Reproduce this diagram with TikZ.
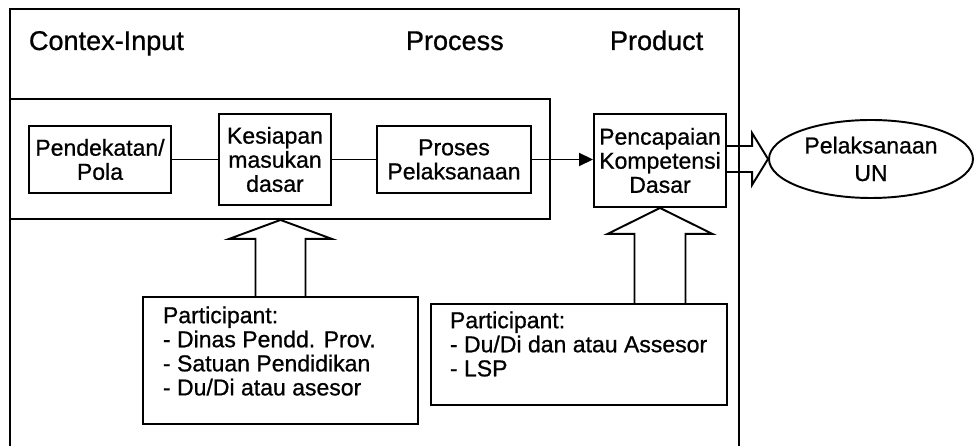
\documentclass[tikz,border=0pt]{standalone}
\usepackage{fontspec}
\setmainfont{Liberation Sans}[FakeBold=0.8]
\usetikzlibrary{shapes.geometric,arrows.meta}
\newcommand{\diafont}{\fontsize{13.1}{13.7}\selectfont}
\newcommand{\ttlfont}{\fontsize{15.4}{18}\selectfont}
\begin{document}
\begin{tikzpicture}[
    line width=1.1pt,
    box/.style={draw, inner sep=0pt, align=center, font=\diafont},
    txt/.style={inner sep=0pt, align=left, anchor=north west, font=\diafont},
    ttl/.style={inner sep=0pt, anchor=base west, font=\ttlfont},
    fat/.style={draw, line join=miter}
  ]
  \useasboundingbox (0,0) rectangle (19.5,8.92);
  \draw (0.2,0) -- (0.2,8.74) -- (14.78,8.74) -- (14.78,0);
  \node[ttl] (ttl-ctx) at (0.56,7.92) {Contex-Input};
  \node[ttl] (ttl-proc) at (8.1,7.92) {Process};
  \node[ttl] (ttl-prod) at (12.18,7.92) {Product};
  \node[box, minimum width=10.8cm, minimum height=2.4cm] (core) at (5.6,5.74) {};
  \node[box, minimum width=2.84cm, minimum height=1.34cm] (pola) at (2.0,5.73) {Pendekatan/\\Pola};
  \node[box, minimum width=2.24cm, minimum height=1.82cm] (siap) at (5.5,5.73) {Kesiapan\\masukan\\dasar};
  \node[box, minimum width=3.08cm, minimum height=1.34cm] (proses) at (9.08,5.73) {Proses\\Pelaksanaan};
  \node[box, minimum width=2.64cm, minimum height=1.86cm] (capai) at (13.2,5.71) {Pencapaian\\Kompetensi\\Dasar};
  \node[box, ellipse, minimum width=4.08cm, minimum height=1.56cm] (un) at (17.42,5.74) {Pelaksanaan\\[2pt]UN};
  \node[box, minimum width=5.5cm, minimum height=2.54cm] (p1) at (5.61,1.71) {};
  \node[txt] (p1-txt) at ([xshift=4mm,yshift=-1.9mm]p1.north west)
    {Participant:\\- Dinas Pendd. Prov.\\- Satuan Pendidikan\\- Du/Di atau asesor};
  \node[box, minimum width=5.92cm, minimum height=2.02cm] (p2) at (11.58,1.83) {};
  \node[txt] (p2-txt) at ([xshift=3.8mm,yshift=-1.5mm]p2.north west)
    {Participant:\\- Du/Di dan atau Assesor\\- LSP};
  \draw (pola) -- (siap);
  \draw (siap) -- (proses);
  \draw[-{Triangle[length=2.8mm,width=2.6mm]}] (proses.east) -- (proses.east -| capai.west);
  \coordinate (a1) at (p1.north |- core.south);
  \draw[fat] ([xshift=-5mm]p1.north) -- ([xshift=-5mm,yshift=-3.8mm]a1)
    -- ([xshift=-10.3mm,yshift=-3.8mm]a1) -- (a1)
    -- ([xshift=10.3mm,yshift=-3.8mm]a1) -- ([xshift=5mm,yshift=-3.8mm]a1)
    -- ([xshift=5mm]p1.north);
  \coordinate (a2) at (capai.south);
  \coordinate (b2) at (capai.south |- p2.north);
  \draw[fat] ([xshift=-5.1mm]b2) -- ([xshift=-5.1mm,yshift=-5.2mm]a2)
    -- ([xshift=-10.5mm,yshift=-5.2mm]a2) -- (a2)
    -- ([xshift=10.5mm,yshift=-5.2mm]a2) -- ([xshift=5.1mm,yshift=-5.2mm]a2)
    -- ([xshift=5.1mm]b2);
  \coordinate (a3) at (un.west);
  \coordinate (b3) at (capai.east |- un.west);
  \draw[fat] ([yshift=2.6mm]b3) -- ([xshift=-3.2mm,yshift=2.6mm]a3)
    -- ([xshift=-3.2mm,yshift=5.2mm]a3) -- (a3)
    -- ([xshift=-3.2mm,yshift=-5.2mm]a3) -- ([xshift=-3.2mm,yshift=-2.6mm]a3)
    -- ([yshift=-2.6mm]b3);
\end{tikzpicture}
\end{document}
